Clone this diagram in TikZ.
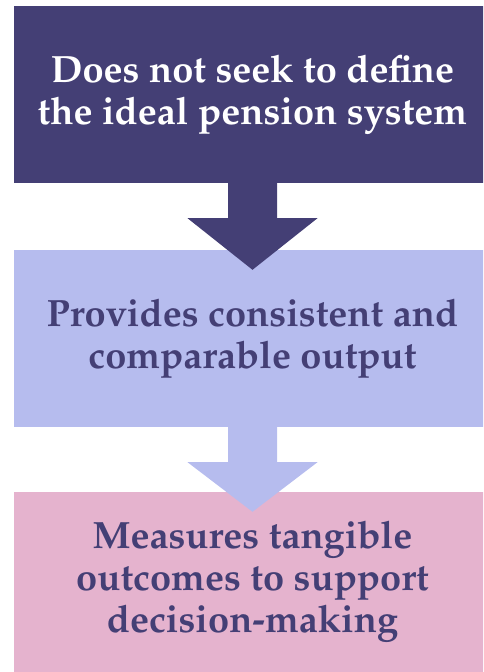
\documentclass[tikz,border=0pt]{standalone}
\usepackage[T1]{fontenc}
\usepackage{palatino}
\usetikzlibrary{calc}
\definecolor{darkpurple}{HTML}{443F75}
\definecolor{lavender}{HTML}{B6BCEE}
\definecolor{pinkish}{HTML}{E5B3CE}
\tikzset{box/.style={rectangle, minimum width=477pt, inner sep=0pt,
    align=center, font=\fontsize{38}{42}\selectfont\bfseries}}
\begin{document}
\begin{tikzpicture}[x=1pt,y=-1pt]
  \useasboundingbox (0,0) rectangle (483,672);
  \clip (0,0) rectangle (483,672);
  \node[box, fill=darkpurple, text=white, minimum height=177pt] (define) at (252.5,94.5)
    {Does not seek to define\\the ideal pension system};
  \node[box, fill=lavender, text=darkpurple, minimum height=177pt] (compare) at (252.5,338.5)
    {Provides consistent and\\comparable output};
  \node[box, fill=pinkish, text=darkpurple, minimum height=180pt] (measure) at (252.5,582)
    {Measures tangible\\outcomes to support\\decision-making};
% block arrows
  \foreach \a/\b/\c in {define/compare/darkpurple, compare/measure/lavender}
    \fill[\c] ($(\a.south)+(-24.5,0)$) -- ++(0,35) -- ++(-40.5,0)
      -- ($(\b.north)+(0,20)$) -- ($(\a.south)+(65,35)$)
      -- ++(-40.5,0) -- ++(0,-35) -- cycle;
\end{tikzpicture}
\end{document}
